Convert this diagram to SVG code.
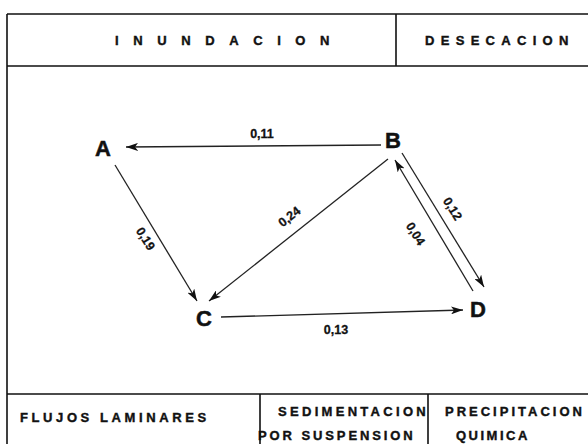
<svg xmlns="http://www.w3.org/2000/svg" width="588" height="444" viewBox="0 0 588 444">
<defs>
<marker id="ah" viewBox="0 0 12 8" refX="12" refY="4" markerWidth="12" markerHeight="8" markerUnits="userSpaceOnUse" orient="auto">
<path d="M0,0 L12,4 L0,8 L3,4 Z" fill="#111"/>
</marker>
</defs>
<style>
.frame{stroke:#111;stroke-width:1.6;fill:none}
.edge{stroke:#222;stroke-width:1.3;fill:none;marker-end:url(#ah)}
.node{font-family:"Liberation Sans",Arial,sans-serif;font-weight:bold;font-size:22px;fill:#111;stroke:#111;stroke-width:0.5;text-anchor:middle}
.lbl{font-family:"Liberation Sans",Arial,sans-serif;font-weight:bold;font-size:12.5px;fill:#111;stroke:#111;stroke-width:0.3;text-anchor:middle}
.hdr{font-family:"Liberation Sans",Arial,sans-serif;font-weight:bold;font-size:13px;fill:#111;stroke:#111;stroke-width:0.4}
</style>
<rect width="588" height="444" fill="#fff"/>
<g id="frame">
<path class="frame" d="M7,14 H588 M7,14 V444 M7,66 H588 M396,14 V66 M7,394 H588 M260,394 V444 M428,394 V444"/>
<text class="hdr" x="115" y="45" letter-spacing="14.6">INUNDACION</text>
<text class="hdr" x="425" y="45" letter-spacing="6.3">DESECACION</text>
<text class="hdr" x="20" y="422" letter-spacing="3.6">FLUJOS</text>
<text class="hdr" x="100" y="422" letter-spacing="3.6">LAMINARES</text>
<text class="hdr" x="278" y="416" letter-spacing="3.3">SEDIMENTACION</text>
<text class="hdr" x="258" y="440" letter-spacing="2.9">POR SUSPENSION</text>
<text class="hdr" x="445" y="416" letter-spacing="3">PRECIPITACION</text>
<text class="hdr" x="456" y="440" letter-spacing="2.5">QUIMICA</text>
</g>
<g id="connectors">
<line class="edge" x1="381" y1="145" x2="126" y2="147"/>
<line class="edge" x1="115" y1="165" x2="197" y2="301"/>
<line class="edge" x1="388" y1="159" x2="209" y2="301"/>
<line class="edge" x1="402" y1="153" x2="484" y2="287"/>
<line class="edge" x1="473" y1="291" x2="395" y2="160"/>
<line class="edge" x1="221" y1="317" x2="463" y2="310"/>
<text class="lbl" x="262" y="138">0,11</text>
<text class="lbl" transform="translate(142,241) rotate(58)">0,19</text>
<text class="lbl" transform="translate(292,220) rotate(-38)">0,24</text>
<text class="lbl" transform="translate(449,211) rotate(58)">0,12</text>
<text class="lbl" transform="translate(412,236) rotate(58)">0,04</text>
<text class="lbl" x="336" y="334">0,13</text>
</g>
<g id="A"><text class="node" x="103" y="156">A</text></g>
<g id="B"><text class="node" x="393" y="148">B</text></g>
<g id="C"><text class="node" x="204" y="326">C</text></g>
<g id="D"><text class="node" x="478" y="317">D</text></g>
</svg>
